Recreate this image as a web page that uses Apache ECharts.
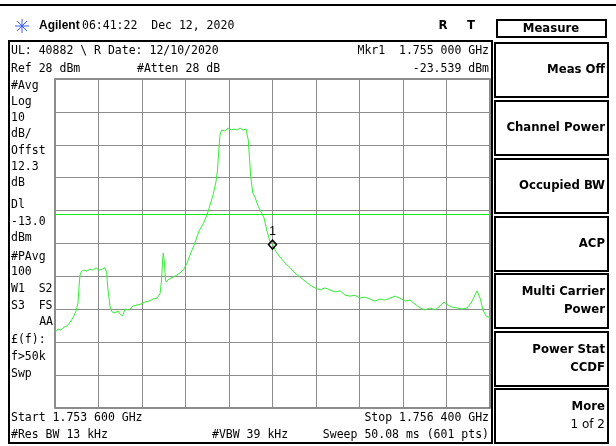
<!DOCTYPE html>
<html><head><meta charset="utf-8">
<script src="https://cdn.jsdelivr.net/npm/echarts@6/dist/echarts.min.js"></script>
<style>html,body{margin:0;padding:0;background:#fff}#c{width:616px;height:446px}</style>
</head><body><div id="c"></div>
<script>
// Frequency offset from start (kHz), start = 1.753 600 GHz, span 2.8 MHz
const freqOffsetKHz = [0,19,39,58,77,97,116,135,148,154,161,171,187,206,225,245,264,283,303,322,332,341,354,367,386,406,418,435,451,476,502,528,554,579,605,631,657,676,686,692,697,704,710,715,734,760,785,811,830,850,869,895,927,955,980,998,1017,1036,1046,1052,1062,1073,1094,1114,1133,1152,1172,1191,1210,1229,1234,1244,1260,1273,1287,1309,1331,1345,1363,1384,1400,1423,1448,1481,1513,1545,1577,1609,1641,1674,1706,1738,1770,1802,1835,1867,1899,1931,1963,1996,2028,2060,2092,2124,2156,2189,2221,2253,2285,2317,2350,2382,2414,2446,2478,2504,2530,2555,2588,2620,2652,2678,2697,2716,2736,2755,2774,2800];
const traceDbm = [-48.9,-48.0,-48.3,-47.4,-47.1,-45.9,-44.6,-42.6,-40.1,-35.5,-31.6,-30.4,-30.1,-30.4,-29.8,-30.1,-29.4,-30.1,-29.8,-29.4,-30.7,-36.1,-41.0,-42.8,-43.1,-42.5,-43.4,-44.0,-41.9,-42.2,-41.0,-40.7,-40.4,-39.8,-39.5,-38.9,-38.6,-37.3,-33.1,-27.6,-24.9,-27.6,-32.5,-33.7,-32.8,-32.2,-31.6,-30.7,-29.8,-27.9,-25.5,-22.5,-18.2,-15.9,-13.1,-10.3,-7.3,-3.3,0.3,4.9,11.0,12.5,12.2,13.1,12.5,12.8,12.5,13.1,12.5,12.8,12.5,9.5,-1.7,-6.7,-7.9,-10.8,-12.8,-14.2,-17.9,-21.5,-22.2,-24.6,-26.1,-27.9,-29.4,-31.0,-32.2,-33.4,-34.6,-35.5,-36.1,-35.5,-36.1,-36.7,-36.4,-37.7,-38.0,-37.7,-38.6,-38.3,-38.9,-39.5,-38.9,-39.2,-38.6,-38.0,-38.6,-39.5,-39.2,-40.4,-41.6,-42.2,-41.6,-42.2,-41.0,-39.8,-40.7,-41.3,-41.6,-41.9,-41.6,-40.1,-38.3,-36.4,-38.6,-42.2,-44.0,-44.6];
const refLevelDbm = 28;
const dbPerDiv = 10;
const displayLineDbm = -13.0;
const spanKHz = 2800;
const markerFreqKHz = 1400;
const markerDbm = -23.539;

const headerTime = '06:41:22  Dec 12, 2020';
const infoLeft1 = 'UL: 40882 \\ R Date: 12/10/2020';
const infoRight1 = 'Mkr1  1.755 000 GHz';
const infoLeft2 = 'Ref 28 dBm';
const infoMid2 = '#Atten 28 dB';
const infoRight2 = '-23.539 dBm';
const sideLabels = ['#Avg','Log','10','dB/','Offst','12.3','dB','Dl','-13.0','dBm','#PAvg','100','W1  S2','S3  FS','AA','£(f):','f>50k','Swp'];
const sideLabelY = [86,102,118,134,151,167,183,205,222,238,257,272,289,306,322,340,357,374];
const bottomTexts = ['Start 1.753 600 GHz','Stop 1.756 400 GHz','#Res BW 13 kHz','#VBW 39 kHz','Sweep 50.08 ms (601 pts)'];
const buttons = [['Meas Off'],['Channel Power'],['Occupied BW'],['ACP'],['Multi Carrier','Power'],['Power Stat','CCDF'],['More','1 of 2']];

const MONO = '11.5px "DejaVu Sans Mono"';
const BOLD = 'bold 13px "DejaVu Sans Condensed", "DejaVu Sans"';
function txt(text, x, y, align, font, fill){
  return {type:'text', z:10, style:{text:text, x:x, y:y, textAlign:align||'left', textVerticalAlign:'middle', font:font||MONO, fill:fill||'#000'}};
}
const g = [];
g.push({type:'line', shape:{x1:0,y1:5,x2:616,y2:5}, style:{stroke:'#000', lineWidth:2}});
g.push({type:'rect', shape:{x:9,y:41,width:483,height:402}, style:{stroke:'#000', fill:null, lineWidth:2}});
// logo
const lc = '#3a5cff';
[[15,26,29,26],[22,19,22,33],[17,21,27,31],[17,31,27,21]].forEach(s=>g.push({type:'line',shape:{x1:s[0],y1:s[1],x2:s[2],y2:s[3]},style:{stroke:lc,lineWidth:1}}));
g.push(txt('Agilent', 39, 26, 'left', 'bold 12px "Liberation Sans"'));
g.push(txt(headerTime, 82, 26));
g.push(txt('R', 443, 26, 'center', BOLD));
g.push(txt('T', 471, 26, 'center', BOLD));
g.push(txt(infoLeft1, 11, 51));
g.push(txt(infoRight1, 489, 51, 'right'));
g.push(txt(infoLeft2, 11, 69));
g.push(txt(infoMid2, 137, 69));
g.push(txt(infoRight2, 489, 69, 'right'));
sideLabels.forEach((s,i)=>{
  if (s==='AA') g.push(txt(s, 53, sideLabelY[i], 'right'));
  else g.push(txt(s, 11, sideLabelY[i]));
});
g.push(txt(bottomTexts[0], 11, 418));
g.push(txt(bottomTexts[1], 489, 418, 'right'));
g.push(txt(bottomTexts[2], 11, 435));
g.push(txt(bottomTexts[3], 212, 435));
g.push(txt(bottomTexts[4], 489, 435, 'right'));
// Measure title
g.push({type:'rect', shape:{x:497,y:20,width:109,height:17}, style:{stroke:'#000', fill:null, lineWidth:2}});
g.push(txt('Measure', 551, 29, 'center', BOLD));
const btnTop = [43,101,159,217,274,332,389];
buttons.forEach((b,i)=>{
  const t = btnTop[i], h = 54;
  g.push({type:'rect', shape:{x:495,y:t,width:113,height:h}, style:{stroke:'#000', fill:null, lineWidth:2}});
  const cy = t + h/2;
  if (b.length===1) g.push(txt(b[0], 605, cy, 'right', BOLD));
  else {
    g.push(txt(b[0], 605, cy-9, 'right', BOLD));
    g.push(txt(b[1], 605, cy+9, 'right', i===6 ? '12px "DejaVu Sans"' : BOLD));
  }
});

const chart = echarts.init(document.getElementById('c'), null, {renderer:'canvas'});
chart.setOption({
  animation:false,
  backgroundColor:'#fff',
  grid:{left:55, top:79, width:435, height:329, show:true, borderColor:'#666', borderWidth:1.5, backgroundColor:'transparent'},
  xAxis:{type:'value', min:0, max:spanKHz, interval:spanKHz/10, axisLine:{show:false}, axisTick:{show:false}, axisLabel:{show:false}, splitLine:{show:true, lineStyle:{color:'#8c8c8c', width:1}}},
  yAxis:[
    {type:'value', min:refLevelDbm-10*dbPerDiv, max:refLevelDbm, axisLine:{show:false}, axisTick:{show:false}, axisLabel:{show:false}, splitLine:{show:false}},
    {type:'value', min:0, max:10, interval:1, axisLine:{show:false}, axisTick:{show:false}, axisLabel:{show:false}, splitLine:{show:true, lineStyle:{color:'#8c8c8c', width:1}}}
  ],
  series:[{
    type:'line', yAxisIndex:0, showSymbol:false, symbol:'none',
    data: freqOffsetKHz.map((f,i)=>[f, traceDbm[i]]),
    lineStyle:{color:'#33ee33', width:1},
    markLine:{silent:true, symbol:['none','none'], label:{show:false}, lineStyle:{color:'#11ee11', width:1.2, type:'solid'}, data:[{yAxis:displayLineDbm}]},
    markPoint:{
      symbol:'diamond', symbolSize:[8,9], symbolOffset:[0,-4],
      itemStyle:{color:'rgba(0,0,0,0)', borderColor:'#000', borderWidth:1.5},
      label:{show:true, formatter:'1', position:'top', distance:2, color:'#000', font:'10px "DejaVu Sans Mono"'},
      data:[{coord:[markerFreqKHz, markerDbm]}]
    }
  }],
  graphic: g
});
</script></body></html>
